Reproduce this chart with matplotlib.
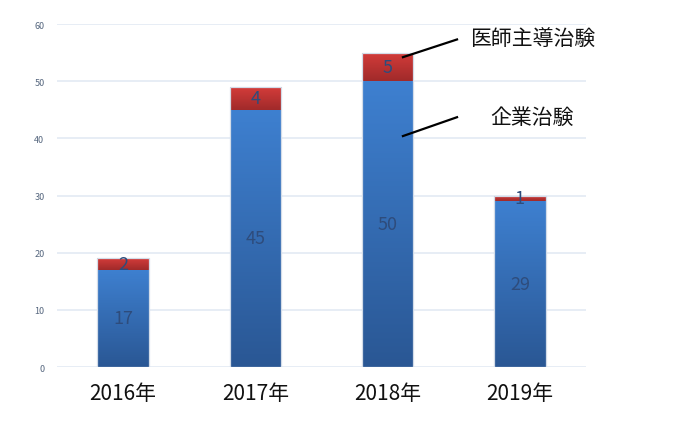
import matplotlib
matplotlib.use('Agg')
import matplotlib.pyplot as plt
from matplotlib.colors import LinearSegmentedColormap
import numpy as np

plt.rcParams['font.family'] = ['Noto Sans CJK JP', 'DejaVu Sans']

years = ['2016年', '2017年', '2018年', '2019年']
company = [17, 45, 50, 29]
investigator = [2, 4, 5, 1]

blue_cmap = LinearSegmentedColormap.from_list('b', ['#2a5794', '#3e80d0'])
red_cmap = LinearSegmentedColormap.from_list('r', ['#a02a2a', '#d43c3a'])


def gradient_fill(ax, bars, cmap):
    grad = np.linspace(0, 1, 256).reshape(-1, 1)
    for b in bars:
        x0, y0 = b.get_x(), b.get_y()
        x1, y1 = x0 + b.get_width(), y0 + b.get_height()
        im = ax.imshow(grad, extent=[x0, x1, y0, y1], origin='lower',
                       cmap=cmap, aspect='auto', zorder=2)
        im.set_clip_path(b)
        b.set_facecolor('none')


fig = plt.figure(figsize=(7, 4.39), dpi=100)
ax = fig.add_axes([0.0814, 0.1617, 0.7557, 0.7813])

x = np.arange(len(years))
w = 0.39
totals = [c + i for c, i in zip(company, investigator)]
b1 = ax.bar(x, company, w, linewidth=0, zorder=3)
b2 = ax.bar(x, investigator, w, bottom=company, linewidth=0, zorder=3)
gradient_fill(ax, b1, blue_cmap)
gradient_fill(ax, b2, red_cmap)
# light outline around each stack
ax.bar(x, totals, w, facecolor='none', edgecolor='#d3dce8', linewidth=0.9, zorder=3.5)

for i in range(len(years)):
    ax.text(x[i], company[i] / 2, str(company[i]), ha='center', va='center',
            fontsize=13, color='#2e4c7c', zorder=4)
    ax.text(x[i], company[i] + investigator[i] / 2, str(investigator[i]),
            ha='center', va='center', fontsize=13, color='#2e4c7c', zorder=4)

ax.set_xlim(-0.5, 3.5)
ax.set_ylim(0, 60)
ax.set_yticks(range(0, 61, 10))
ax.tick_params(axis='y', length=0, labelsize=6.5, labelcolor='#56677f', pad=9)
ax.set_xticks(x)
ax.set_xticklabels(years, fontsize=15, color='#111111')
ax.tick_params(axis='x', length=0, pad=11)
ax.grid(axis='y', color='#e3eaf3', linewidth=1.2, zorder=0)
ax.set_axisbelow(True)
for s in ax.spines.values():
    s.set_visible(False)

# callouts
ax.plot([2.116, 2.525], [54.2, 57.3], color='black', lw=1.6, clip_on=False, zorder=5)
ax.plot([2.116, 2.525], [40.4, 43.7], color='black', lw=1.6, clip_on=False, zorder=5)
ax.text(2.623, 57.6, '医師主導治験', fontsize=15, ha='left', va='center',
        color='#111111', clip_on=False)
ax.text(2.774, 43.7, '企業治験', fontsize=15, ha='left', va='center',
        color='#111111', clip_on=False)

fig.savefig('out.png', dpi=100)
